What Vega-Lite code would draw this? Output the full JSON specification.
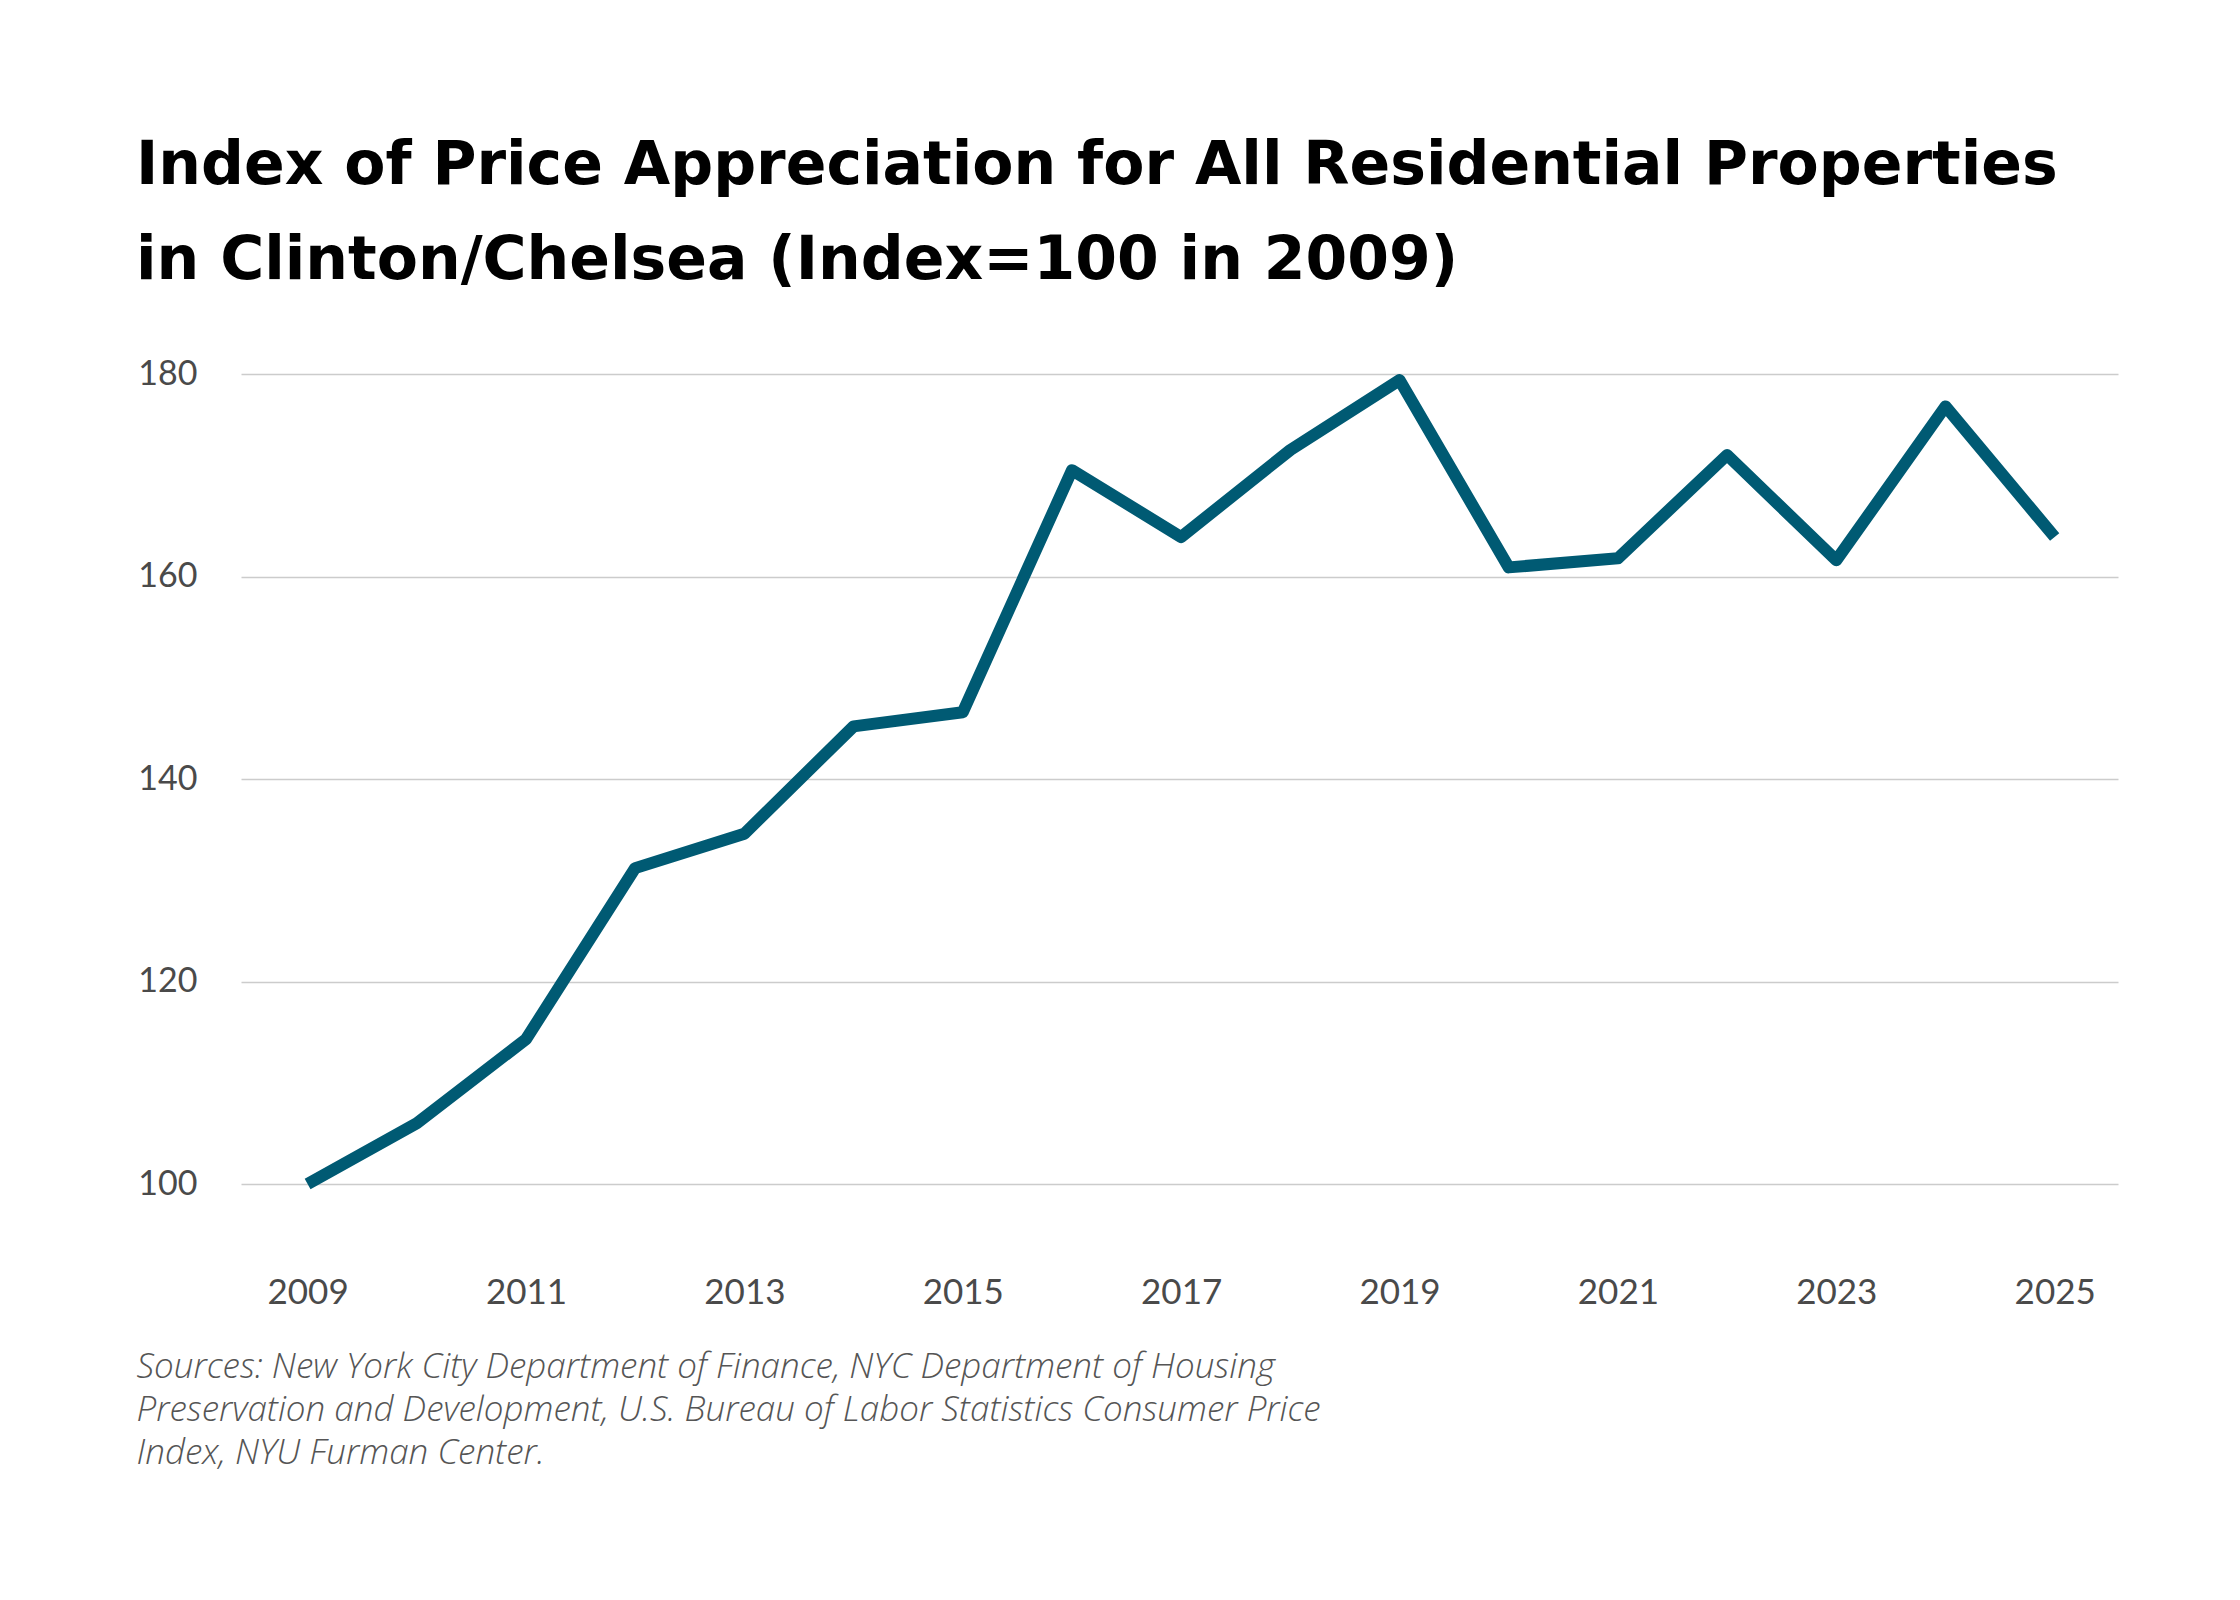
{
  "$schema": "https://vega.github.io/schema/vega-lite/v6.json",
  "description": "Index of price appreciation for all residential properties in Clinton/Chelsea.",
  "autosize": {"type": "none"},
  "width": 1877,
  "height": 891,
  "padding": {"left": 241, "top": 374, "right": 122, "bottom": 335},
  "background": "white",
  "title": {
    "text": ["Index of Price Appreciation for All Residential Properties", "in Clinton/Chelsea (Index=100 in 2009)"],
    "anchor": "start",
    "frame": "group",
    "dx": -105,
    "font": "DejaVu Sans",
    "fontSize": 60,
    "fontWeight": "bold",
    "color": "#000000",
    "lineHeight": 95,
    "offset": 65
  },
  "data": {
    "values": [
      {"year": 2009, "index": 100.0},
      {"year": 2010, "index": 106.0},
      {"year": 2011, "index": 114.3},
      {"year": 2012, "index": 131.2},
      {"year": 2013, "index": 134.6},
      {"year": 2014, "index": 145.2},
      {"year": 2015, "index": 146.6},
      {"year": 2016, "index": 170.5},
      {"year": 2017, "index": 163.9},
      {"year": 2018, "index": 172.5},
      {"year": 2019, "index": 179.4},
      {"year": 2020, "index": 160.9},
      {"year": 2021, "index": 161.8},
      {"year": 2022, "index": 172.0},
      {"year": 2023, "index": 161.6},
      {"year": 2024, "index": 176.8},
      {"year": 2025, "index": 163.9}
    ]
  },
  "mark": {
    "type": "line",
    "color": "#005a73",
    "strokeWidth": 12,
    "strokeCap": "butt",
    "strokeJoin": "round"
  },
  "encoding": {
    "x": {
      "field": "year",
      "type": "quantitative",
      "scale": {"domain": [2008.39, 2025.58], "nice": false, "zero": false},
      "axis": {
        "values": [2009, 2011, 2013, 2015, 2017, 2019, 2021, 2023, 2025],
        "format": "d",
        "grid": false,
        "domain": false,
        "ticks": false,
        "labelFont": "Lato",
        "labelFontSize": 35,
        "labelColor": "#4a4a4a",
        "labelPadding": 10,
        "title": [
          "Sources: New York City Department of Finance, NYC Department of Housing",
          "Preservation and Development, U.S. Bureau of Labor Statistics Consumer Price",
          "Index, NYU Furman Center."
        ],
        "titleFont": "Open Sans",
        "titleFontSize": 35,
        "titleFontStyle": "italic",
        "titleFontWeight": 300,
        "titleColor": "#555555",
        "titleLineHeight": 43,
        "titleAnchor": "start",
        "titleAlign": "left",
        "titleBaseline": "alphabetic",
        "titleX": -105,
        "titleY": 112
      }
    },
    "y": {
      "field": "index",
      "type": "quantitative",
      "scale": {"domain": [92, 180], "nice": false, "zero": false},
      "axis": {
        "values": [100, 120, 140, 160, 180],
        "grid": true,
        "gridColor": "#cccccc",
        "gridWidth": 1.5,
        "domain": false,
        "ticks": false,
        "labelFont": "Lato",
        "labelFontSize": 34,
        "labelColor": "#4a4a4a",
        "labelPadding": 44,
        "title": null
      }
    }
  },
  "config": {
    "view": {"stroke": null}
  }
}
